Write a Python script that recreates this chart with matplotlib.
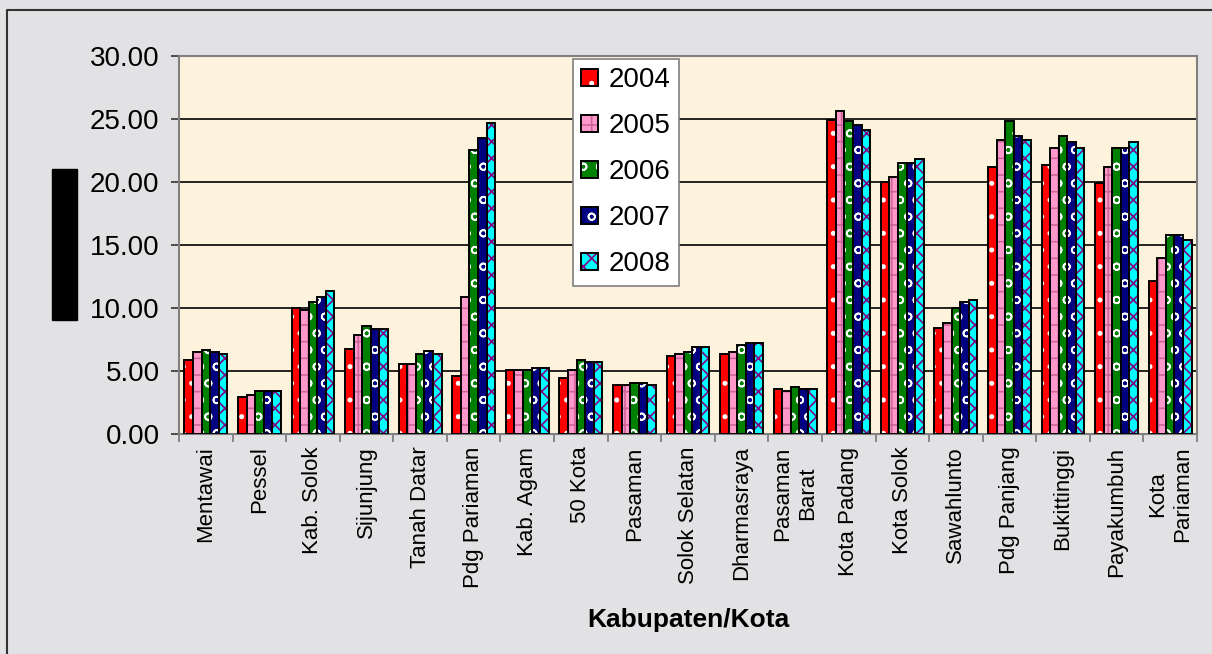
import matplotlib
matplotlib.use("Agg")
import matplotlib.pyplot as plt
import numpy as np
from matplotlib.patches import Patch, Rectangle
from matplotlib.lines import Line2D

plt.rcParams['font.family'] = ['Liberation Sans', 'DejaVu Sans']
plt.rcParams['hatch.linewidth'] = 1.2

# data
categories = ["Mentawai", "Pessel", "Kab. Solok", "Sijunjung", "Tanah Datar",
              "Pdg Pariaman", "Kab. Agam", "50 Kota", "Pasaman", "Solok Selatan",
              "Dharmasraya", "Pasaman\nBarat", "Kota Padang", "Kota Solok",
              "Sawahlunto", "Pdg Panjang", "Bukittinggi", "Payakumbuh",
              "Kota\nPariaman"]
years = ["2004", "2005", "2006", "2007", "2008"]
v2004 = [5.88, 2.93, 10.03, 6.73, 5.56, 4.60, 5.05, 4.41, 3.91, 6.22,
         6.38, 3.59, 24.95, 20.03, 8.40, 21.22, 21.38, 19.89, 12.18]
v2005 = [6.54, 3.11, 9.81, 7.87, 5.56, 10.85, 5.05, 5.08, 3.91, 6.38,
         6.54, 3.43, 25.66, 20.43, 8.83, 23.35, 22.69, 21.22, 13.96]
v2006 = [6.70, 3.43, 10.48, 8.54, 6.38, 22.55, 5.05, 5.90, 4.07, 6.54,
         7.05, 3.75, 24.81, 21.52, 10.03, 24.81, 23.67, 22.69, 15.77]
v2007 = [6.54, 3.43, 10.85, 8.35, 6.57, 23.51, 5.24, 5.72, 4.07, 6.89,
         7.21, 3.59, 24.49, 21.52, 10.51, 23.64, 23.19, 22.69, 15.77]
v2008 = [6.38, 3.43, 11.33, 8.35, 6.38, 24.65, 5.24, 5.72, 3.91, 6.89,
         7.21, 3.59, 24.15, 21.86, 10.66, 23.35, 22.69, 23.19, 15.43]
series = [v2004, v2005, v2006, v2007, v2008]

faces = ["#ff0000", "#ff99cc", "#008000", "#000080", "#00ffff"]
hatch_colors = ["#ffffff", "#cc6699", "#ffffff", "#ffffff", "#800080"]
hatches = [".", "+", "o", "o", "xx"]

fig = plt.figure(figsize=(12.12, 6.54), dpi=100)
fig.patch.set_facecolor("#e2e2e4")
ax = fig.add_axes([179/1212, 1-434/654, (1197-179)/1212, (434-56)/654])
ax.set_facecolor("#fdf2dc")

x = np.arange(len(categories))
w = 0.16
handles = []
for i, vals in enumerate(series):
    pos = x + (i - 2) * w
    ax.bar(pos, vals, w, color=faces[i], linewidth=0, zorder=3)
    ax.bar(pos, vals, w, color="none", edgecolor=hatch_colors[i],
           hatch=hatches[i], linewidth=0, zorder=3.5)
    ax.bar(pos, vals, w, color="none", edgecolor="black", linewidth=1.4, zorder=4)
    handles.append((Patch(facecolor=faces[i], linewidth=0),
                    Patch(facecolor="none", edgecolor=hatch_colors[i], hatch=hatches[i], linewidth=0),
                    Patch(facecolor="none", edgecolor="black", linewidth=1.4)))

ax.set_ylim(0, 30)
ax.set_xlim(-0.5, len(categories) - 0.5)
ax.set_yticks(np.arange(0, 31, 5))
ax.set_yticklabels(["%.2f" % t for t in np.arange(0, 31, 5)], fontsize=20)
ax.yaxis.grid(True, color="black", linewidth=1.2, zorder=1)
ax.set_axisbelow(True)
ax.tick_params(axis="y", length=6, width=1.2, color="#333333", pad=8)

ax.set_xticks(x)
ax.set_xticklabels(categories, rotation=90, fontsize=16, va="top", ha="center",
                   multialignment="center")
ax.tick_params(axis="x", which="major", length=0, pad=9)
ax.set_xticks(np.arange(-0.5, len(categories), 1), minor=True)
ax.tick_params(axis="x", which="minor", length=6, width=1.2, color="#777777")

for s in ax.spines.values():
    s.set_color("#808080")
    s.set_linewidth(1.5)

ax.set_xlabel("Kabupaten/Kota", fontsize=19, fontweight="bold")
ax.xaxis.set_label_coords(0.5, -0.46)

leg = ax.legend(handles, years, loc="upper left", bbox_to_anchor=(573/1212, 1-59/654),
                bbox_transform=fig.transFigure, borderaxespad=0, fontsize=20,
                frameon=True, fancybox=False, framealpha=1, edgecolor="#808080",
                handlelength=0.6, handleheight=0.6, handletextpad=0.4,
                labelspacing=0.72, borderpad=0.3)
leg.get_frame().set_linewidth(1.2)
leg.set_zorder(10)

# black block left of the axis
fig.add_artist(Rectangle((52/1212, 1-320/654), 25/1212, 151/654,
                         transform=fig.transFigure, color="black"))
# outer frame
fig.add_artist(Line2D([7/1212, 7/1212, 1.0], [0.0, 1-10/654, 1-10/654],
                      transform=fig.transFigure, color="#333333", linewidth=1.5))

plt.savefig("out.png", dpi=100, facecolor=fig.get_facecolor())
